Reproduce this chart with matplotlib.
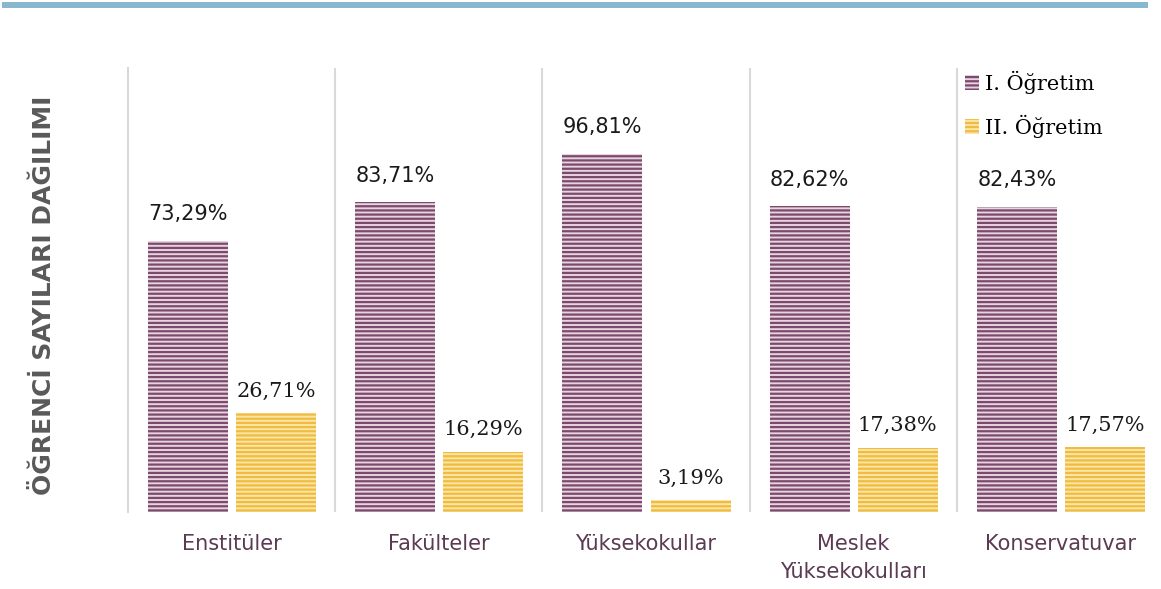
import matplotlib
matplotlib.use("Agg")
import matplotlib.pyplot as plt
from matplotlib.patches import Patch, Rectangle
import numpy as np

categories = ["Enstitüler", "Fakülteler", "Yüksekokullar", "Meslek\nYüksekokulları", "Konservatuvar"]
first_shift = [73.29, 83.71, 96.81, 82.62, 82.43]
second_shift = [26.71, 16.29, 3.19, 17.38, 17.57]
series_names = ["I. Öğretim", "II. Öğretim"]
ylabel = "ÖĞRENCİ SAYILARI DAĞILIMI"

plt.rcParams['hatch.linewidth'] = 1.6

W, H = 1161, 589
fig = plt.figure(figsize=(W/100, H/100), dpi=100)
ax = fig.add_axes([128/W, 1-512/H, 1036/W, 444/H])

x = np.arange(len(categories))
bw = 0.386
purple_face, purple_hatch = "#e8d3e0", "#7c4a6c"
yellow_face, yellow_hatch = "#fbe6a6", "#efbb40"

b1 = ax.bar(x - 0.21, first_shift, bw, color=purple_face, edgecolor=purple_hatch,
            hatch="----", linewidth=0)
b2 = ax.bar(x + 0.215, second_shift, bw, color=yellow_face, edgecolor=yellow_hatch,
            hatch="----", linewidth=0)

def fmt(v):
    return f"{v:.2f}%".replace(".", ",")

for xi, v in zip(x - 0.21, first_shift):
    ax.annotate(fmt(v), (xi, v), xytext=(0, 12), textcoords="offset points",
                ha="center", va="bottom", fontsize=15, family="DejaVu Sans",
                color="#1a1a1a")
for xi, v in zip(x + 0.215, second_shift):
    ax.annotate(fmt(v), (xi, v), xytext=(0, 9), textcoords="offset points",
                ha="center", va="bottom", fontsize=15, family="DejaVu Serif",
                color="#1a1a1a")

ax.set_xlim(-0.5, 4.5)
ax.set_ylim(0, 120)
ax.set_xticks(x)
ax.set_xticklabels(categories, fontsize=15, color="#5b3a53", family="DejaVu Sans",
                   linespacing=1.5)
ax.tick_params(axis="x", length=0, pad=16)
ax.set_yticks([])
for s in ["top", "right", "bottom"]:
    ax.spines[s].set_visible(False)
ax.spines["left"].set_color("#d9d9d9")
ax.spines["left"].set_linewidth(1.5)
for b in [0.5, 1.5, 2.5, 3.5]:
    ax.axvline(b, color="#d9d9d9", linewidth=1.5, zorder=0)

ax.set_ylabel(ylabel, fontsize=18, fontweight="bold", color="#595959")
ax.yaxis.set_label_coords(-0.0695, 0.489)

handles = [Patch(facecolor=purple_face, edgecolor=purple_hatch, hatch="----", linewidth=0),
           Patch(facecolor=yellow_face, edgecolor=yellow_hatch, hatch="----", linewidth=0)]
leg = ax.legend(handles, series_names, loc="upper left", bbox_to_anchor=(0.7935, 1.027),
                frameon=False, prop={"family": "DejaVu Serif", "size": 15},
                handlelength=0.7, handleheight=0.7, handletextpad=0.3, labelspacing=1.0,
                borderaxespad=0.3)

fig.add_artist(Rectangle((2/W, 1-8/H), 1146/W, 6/H, transform=fig.transFigure,
                         facecolor="#87b8d0", edgecolor="none"))

fig.savefig("out.png", dpi=100)
